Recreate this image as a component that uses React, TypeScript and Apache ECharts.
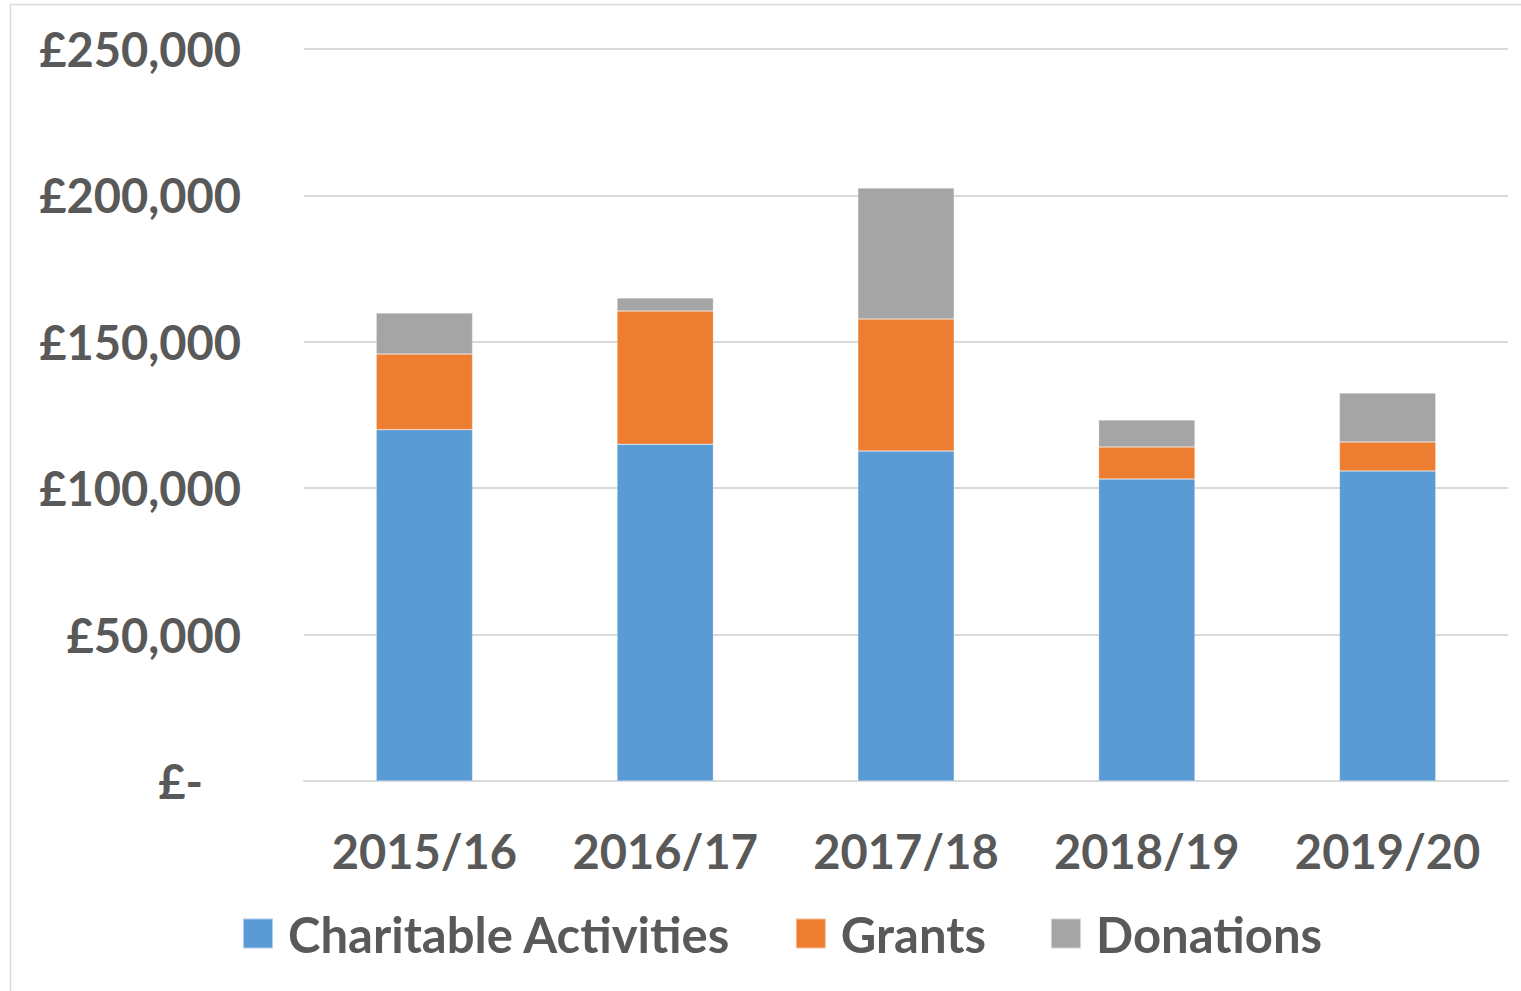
import React, { useEffect, useRef } from "react";
import * as echarts from "echarts";

const categories = ["2015/16", "2016/17", "2017/18", "2018/19", "2019/20"];
const charitableActivities = [120000, 115000, 112700, 103100, 105900];
const grants = [25800, 45500, 45100, 11000, 9900];
const donations = [14000, 4500, 44700, 9200, 16700];
const seriesNames = ["Charitable Activities", "Grants", "Donations"];
const colors = ["#5B9BD5", "#ED7D31", "#A5A5A5"];

const FONT = "Lato, 'Open Sans', sans-serif";
const TEXT = "#595959";

export default function App() {
  const ref = useRef<HTMLDivElement>(null);
  useEffect(() => {
    if (!ref.current) return;
    const chart = echarts.init(ref.current, null, { renderer: "svg" });
    const dataSets = [charitableActivities, grants, donations];
    chart.setOption({
      animation: false,
      backgroundColor: "#ffffff",
      graphic: [
        {
          type: "rect",
          shape: { x: 10.5, y: 4.5, width: 1530, height: 1000 },
          style: { fill: "none", stroke: "#D9D9D9", lineWidth: 1.5 },
          silent: true,
        },
      ],
      grid: { left: 304, right: 13, top: 49, bottom: 210, containLabel: false },
      legend: {
        left: 242,
        top: 909,
        padding: 0,
        itemWidth: 30,
        itemHeight: 30,
        itemGap: 64,
        icon: "rect",
        data: seriesNames,
        textStyle: {
          fontFamily: FONT,
          fontWeight: "bold",
          fontSize: 49,
          color: TEXT,
          padding: [0, 0, 0, 10],
        },
      },
      xAxis: {
        type: "category",
        data: categories,
        axisLine: { show: true, lineStyle: { color: "#D9D9D9", width: 2 } },
        axisTick: { show: false },
        axisLabel: {
          interval: 0,
          margin: 46,
          fontFamily: FONT,
          fontWeight: "bold",
          fontSize: 47,
          color: TEXT,
        },
      },
      yAxis: {
        type: "value",
        min: 0,
        max: 250000,
        interval: 50000,
        axisLine: { show: false },
        axisTick: { show: false },
        splitLine: { lineStyle: { color: "#D9D9D9", width: 2 } },
        axisLabel: {
          margin: 63,
          fontFamily: FONT,
          fontWeight: "bold",
          fontSize: 47,
          color: TEXT,
          formatter: (v: number) =>
            v === 0 ? "{z|£-}" : "£" + v.toLocaleString("en-GB"),
          rich: {
            z: {
              fontFamily: FONT,
              fontWeight: "bold",
              fontSize: 47,
              color: TEXT,
              padding: [0, 38, 0, 0],
            },
          },
        },
      },
      series: seriesNames.map((name, i) => ({
        name,
        type: "bar",
        stack: "total",
        data: dataSets[i],
        barWidth: "40%",
        itemStyle: { color: colors[i], borderColor: "rgba(255,255,255,0.5)", borderWidth: 0.5 },
      })),
    });
    return () => chart.dispose();
  }, []);
  return (
    <div
      ref={ref}
      style={{ position: "fixed", left: 0, top: 0, width: 1521, height: 991 }}
    />
  );
}
